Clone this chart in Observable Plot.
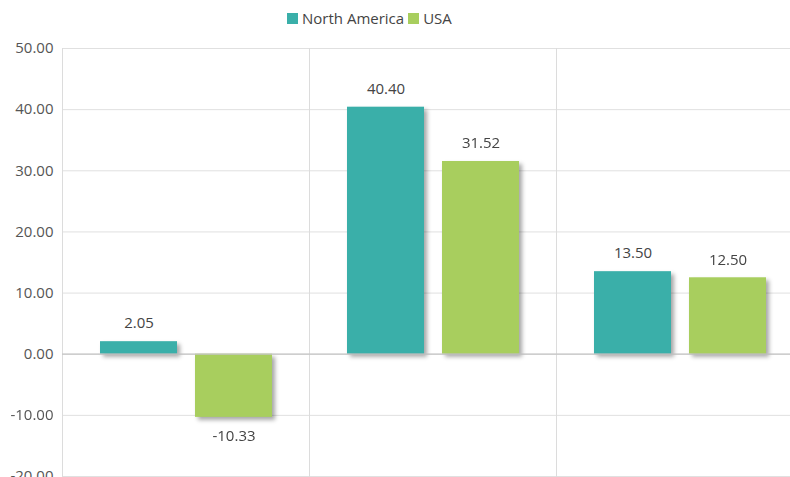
<!DOCTYPE html>
<html>
<head>
<meta charset="utf-8">
<script src="https://cdn.jsdelivr.net/npm/d3@7"></script>
<script src="https://cdn.jsdelivr.net/npm/@observablehq/plot@0.6"></script>
<style>
  html, body { margin: 0; padding: 0; background: #fff; overflow: hidden; }
  body { width: 790px; height: 477px; position: relative; font-family: "Open Sans", "Noto Sans", sans-serif; }
  #legend { position: absolute; left: 287px; top: 8px; display: flex; align-items: center; font-size: 15px; color: #444; white-space: nowrap; }
  #legend .item { display: flex; align-items: center; margin-right: 4px; }
  #legend .sw { width: 11px; height: 11px; margin-right: 4px; }
  #chart { position: absolute; left: 0; top: 36px; width: 803px; }
</style>
</head>
<body>
<div id="legend"></div>
<div id="chart"></div>
<script>
const groups = ["Group 1", "Group 2", "Group 3"];
const series = ["North America", "USA"];
const northAmerica = [2.05, 40.40, 13.50];
const usa = [-10.33, 31.52, 12.50];
const yTicks = [-20, -10, 0, 10, 20, 30, 40, 50];
const colors = ["#3aafa9", "#a8ce5e"];

const values = [northAmerica, usa];
const data = groups.flatMap((g, i) => series.map((s, j) => ({group: g, series: s, value: values[j][i]})));

// legend
const legend = document.getElementById("legend");
series.forEach((s, j) => {
  const item = document.createElement("div");
  item.className = "item";
  const sw = document.createElement("span");
  sw.className = "sw";
  sw.style.background = colors[j];
  const t = document.createElement("span");
  t.textContent = s;
  item.appendChild(sw);
  item.appendChild(t);
  legend.appendChild(item);
});

const plot = Plot.plot({
  width: 803,
  height: 470,
  marginLeft: 62,
  marginRight: 0,
  marginTop: 12,
  marginBottom: 30,
  style: {fontFamily: '"Open Sans", "Noto Sans", sans-serif', fontSize: "15px", background: "#fff", overflow: "visible", maxWidth: "none"},
  fx: {domain: groups, padding: 0, axis: null},
  x: {domain: series, paddingInner: 0.19, paddingOuter: 0.395, axis: null},
  y: {domain: [-20, 50], label: null},
  color: {domain: series, range: colors},
  marks: [
    Plot.ruleY(yTicks, {stroke: "#e0e0e0", strokeWidth: 1}),
    Plot.frame({anchor: "left", stroke: "#dcdcdc"}),
    Plot.barY(data, {fx: "group", x: "series", y: "value", fill: "series"}),
    Plot.ruleY([0], {stroke: "#c4c4c4", strokeWidth: 1.2}),
    Plot.text(data.filter(d => d.value >= 0), {fx: "group", x: "series", y: "value", text: d => d.value.toFixed(2), dy: -18, fill: "#444", fontSize: 15}),
    Plot.text(data.filter(d => d.value < 0), {fx: "group", x: "series", y: "value", text: d => d.value.toFixed(2), dy: 19, fill: "#444", fontSize: 15}),
    Plot.axisY(yTicks, {tickSize: 0, tickPadding: 9, tickFormat: d => d.toFixed(2), fill: "#555", fontSize: 15, facetAnchor: "left", label: null})
  ]
});
plot.style.maxWidth = "none";

plot.querySelectorAll('g[aria-label="bar"]').forEach(g => {
  g.style.filter = "drop-shadow(3px 3px 2px rgba(0,0,0,0.35))";
});

document.getElementById("chart").appendChild(plot);
</script>
</body>
</html>
